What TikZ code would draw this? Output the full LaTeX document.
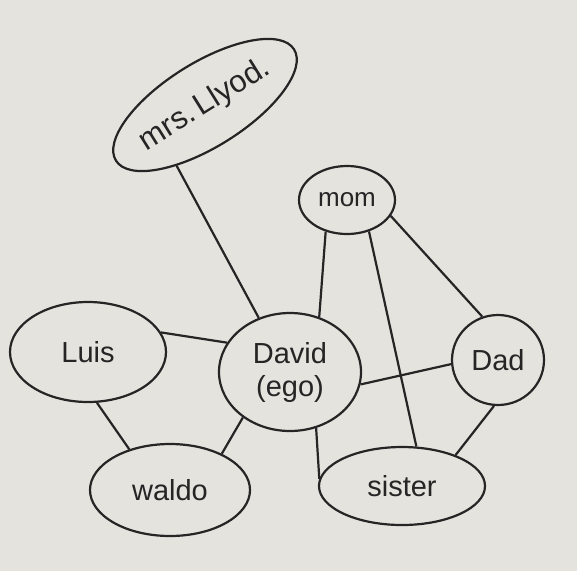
\documentclass[tikz,border=0pt]{standalone}
\usepackage{fontspec}
\setmainfont{Liberation Sans}
\usetikzlibrary{shapes.geometric}
\definecolor{paper}{RGB}{229,227,221}
\definecolor{pen}{RGB}{38,36,36}
\tikzset{
  person/.style={draw=pen, line width=2.2pt, ellipse, inner sep=0pt,
    text=pen, font=\fontsize{29}{33}\selectfont, align=center},
  tie/.style={draw=pen, line width=2.2pt}
}
\begin{document}
\begin{tikzpicture}[x=1pt,y=-1pt]
      \fill[paper] (0,0) rectangle (577,571);
      \useasboundingbox (0,0) rectangle (577,571);
      \draw
        (205,105) node[person, rotate=32, minimum width=210, minimum height=84, font=\fontsize{31}{35}\selectfont] (lloyd){mrs.\,Llyod.}
        (347,200) node[person, minimum width=96, minimum height=68, font=\fontsize{26}{30}\selectfont] (mom){mom}
        (88,352) node[person, minimum width=156, minimum height=100] (luis){Luis}
        (290,372) node[person, minimum width=142, minimum height=118] (ego){David\\(ego)}
        (498,360) node[person, minimum width=92, minimum height=90] (dad){Dad}
        (170,490) node[person, minimum width=160, minimum height=92] (waldo){waldo}
        (402,486) node[person, minimum width=166, minimum height=78] (sister){sister};
      \begin{scope}[tie]
        \draw (lloyd.-147) to (ego.120);
        \draw (luis.15) to (ego.155);
        \draw (luis.-80) to (waldo.135);
        \draw (ego.-136) to (waldo.35);
        \draw (mom.-124) to (ego.62);
        \draw (mom.-55) to (sister.70);
        \draw (mom.-20) to (dad.110);
        \draw (ego.-10) to (dad.185);
        \draw (ego.-65) to (sister.175);
        \draw (dad.-95) to (sister.30);
      \end{scope}
    \end{tikzpicture}
\end{document}
